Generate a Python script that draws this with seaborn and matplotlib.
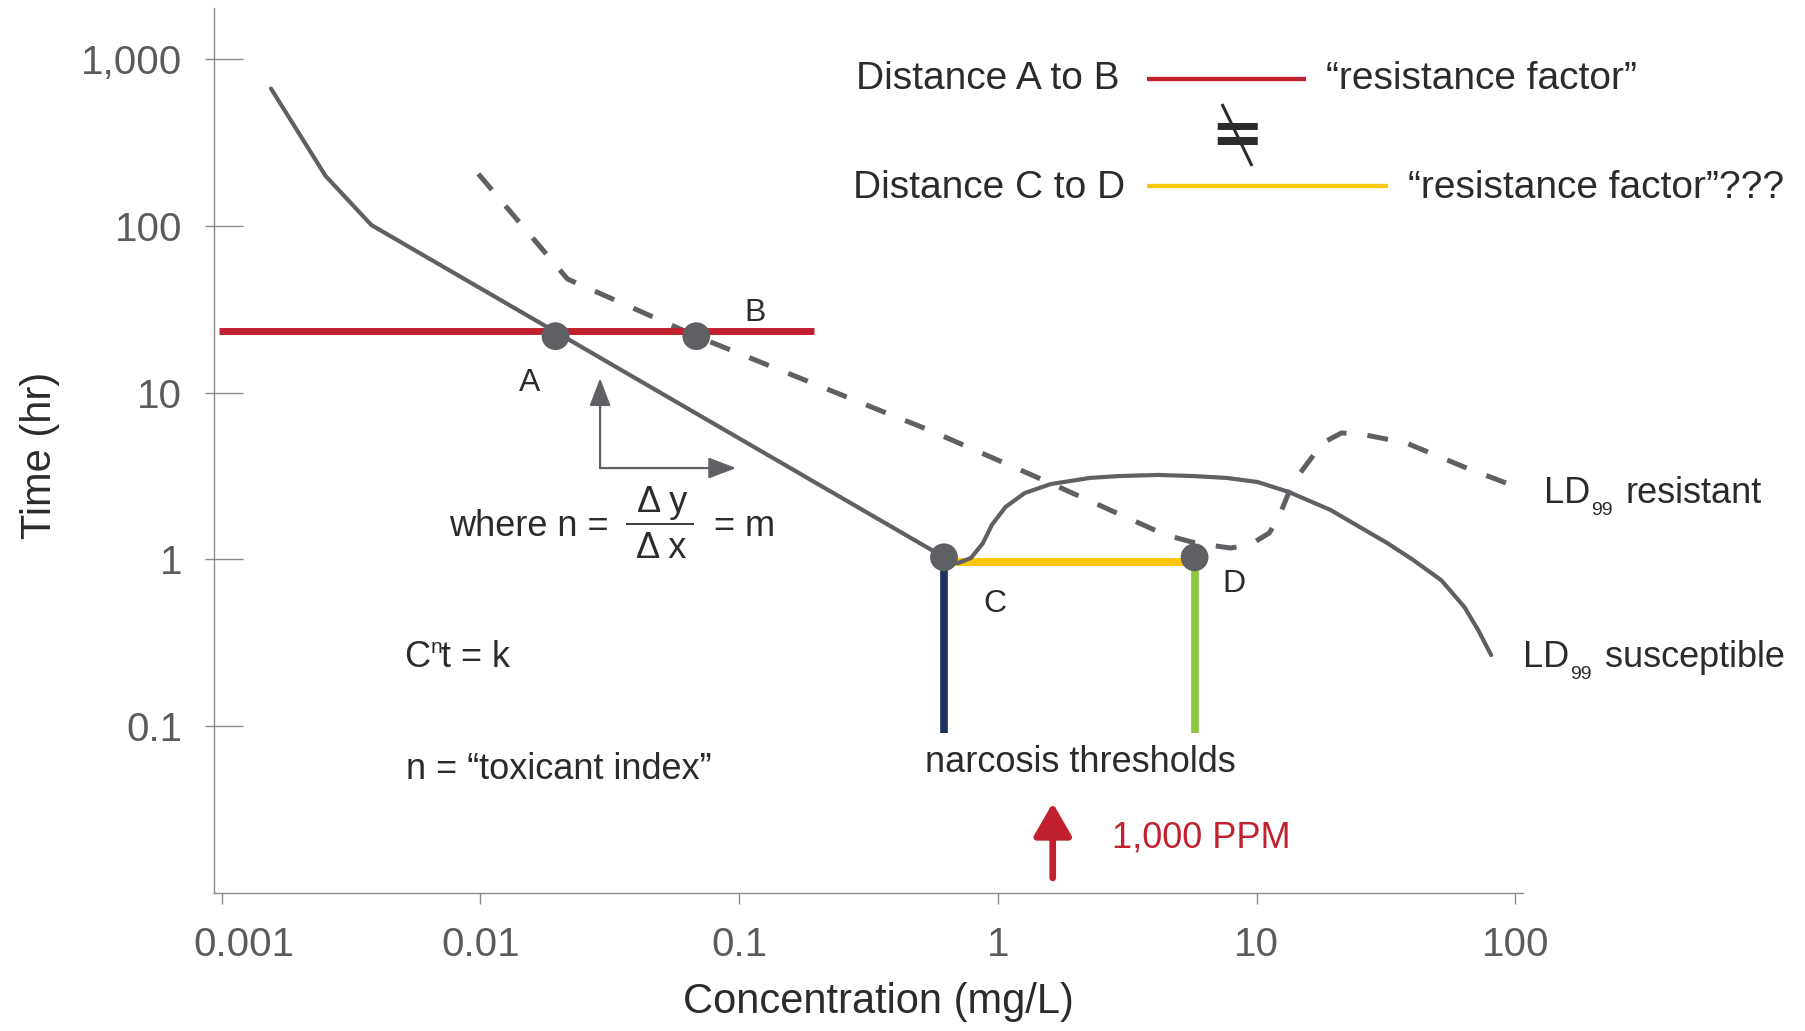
import matplotlib
matplotlib.use('Agg')
import pandas as pd
import seaborn as sns
import matplotlib.pyplot as plt
import matplotlib.ticker as mticker
import matplotlib.transforms as mtransforms
from matplotlib.lines import Line2D
from matplotlib.patches import FancyArrowPatch, ArrowStyle

# LD99 susceptible (solid) curve: concentration (mg/L) vs time (hr)
sus_conc = [0.00155, 0.00252, 0.00379, 0.62, 0.70, 0.787, 0.875, 0.948, 1.07, 1.27,
            1.60, 2.27, 2.93, 4.18, 5.71, 7.66, 10.1, 13.3, 19.3, 32.1, 40.4, 51.8,
            63.5, 71.9, 80.7]
sus_time = [665, 199, 101, 1.03, 0.95, 1.02, 1.25, 1.61, 2.06, 2.50,
            2.83, 3.08, 3.16, 3.21, 3.16, 3.08, 2.91, 2.54, 1.98, 1.25, 0.99, 0.75,
            0.52, 0.377, 0.267]

# LD99 resistant (dashed) curve
res_conc = [0.00981, 0.0217, 0.0683, 0.396, 0.542, 1.56, 4.46, 5.87, 7.94, 9.40,
            11.2, 12.2, 13.8, 16.3, 18.0, 21.3, 25.2, 37.9, 63.5, 103.5]
res_time = [205, 48.0, 21.8, 7.24, 5.97, 2.91, 1.40, 1.25, 1.17, 1.22,
            1.44, 1.80, 2.87, 4.06, 4.99, 5.73, 5.65, 4.99, 3.58, 2.68]

# marked points A, B, C, D
pt_names = ['A', 'B', 'C', 'D']
pt_conc = [0.0195, 0.0683, 0.619, 5.76]
pt_time = [21.8, 21.8, 1.03, 1.03]

ab_time = 23.4            # "resistance factor" line A-B
ab_span = [0.00098, 0.195]
cd_time = 0.965           # line C-D
thresh_low = 0.091        # bottom of narcosis threshold lines
ppm_conc = 1.63           # 1,000 PPM arrow
ppm_span = [0.0123, 0.0347]
slope_corner = [0.0290, 3.53]
slope_top = 12.2
slope_right = 0.0973

xticks = [0.001, 0.01, 0.1, 1, 10, 100]
xtick_labels = ['0.001', '0.01', '0.1', '1', '10', '100']
yticks = [0.1, 1, 10, 100, 1000]
ytick_labels = ['0.1', '1', '10', '100', '1,000']

GRAY = '#5f6063'
TEXT = '#2b2b2b'
AXIS = '#8c8c8c'
TICKTXT = '#5a5b5d'
RED = '#c1212f'
YELLOW = '#fcc80e'
NAVY = '#1f2f5e'
GREEN = '#8cc63f'

W, H = 1806, 1031
sns.set_style('white')
plt.rcParams['font.family'] = ['Liberation Sans', 'DejaVu Sans']

fig = plt.figure(figsize=(W / 100, H / 100), dpi=100)
ax = fig.add_axes([214 / W, 1 - 893 / H, 1309 / W, 885 / H])
ax.set_xscale('log')
ax.set_yscale('log')

sus = pd.DataFrame({'conc': sus_conc, 'time': sus_time})
res = pd.DataFrame({'conc': res_conc, 'time': res_time})
sns.lineplot(data=sus, x='conc', y='time', sort=False, estimator=None,
             color=GRAY, lw=3.0, ax=ax, zorder=2)
sns.lineplot(data=res, x='conc', y='time', sort=False, estimator=None,
             color=GRAY, lw=3.6, ax=ax, zorder=2)
ax.lines[-1].set_dashes([4.2, 4.2])

ax.hlines(ab_time, ab_span[0], ab_span[1], color=RED, lw=5.0, zorder=3)
ax.hlines(cd_time, pt_conc[2], pt_conc[3], color=YELLOW, lw=5.8, zorder=1.8)
ax.vlines(pt_conc[2], thresh_low, pt_time[2], color=NAVY, lw=5.5, zorder=1.8)
ax.vlines(pt_conc[3], thresh_low, pt_time[3], color=GREEN, lw=5.5, zorder=1.8)

pts = pd.DataFrame({'conc': pt_conc, 'time': pt_time, 'name': pt_names})
sns.scatterplot(data=pts, x='conc', y='time', s=400, color=GRAY,
                edgecolor='none', zorder=5, ax=ax, legend=False)


def arrow(p0, p1, color, lw, hl, hw):
    ax.add_patch(FancyArrowPatch(p0, p1, arrowstyle=ArrowStyle('-|>', head_length=hl, head_width=hw),
                                 mutation_scale=1, color=color, lw=lw,
                                 shrinkA=0, shrinkB=0, zorder=4))


arrow(slope_corner, (slope_corner[0], slope_top), GRAY, 1.6, 17, 6.5)
arrow(slope_corner, (slope_right, slope_corner[1]), GRAY, 1.6, 17, 6.5)
arrow((ppm_conc, ppm_span[0]), (ppm_conc, ppm_span[1]), RED, 4.8, 20, 11.5)

ax.set_xlim(10 ** -3.03, 10 ** 2.03)
ax.set_ylim(0.01, 10 ** 3.306)

ax.set_xticks(xticks)
ax.set_xticklabels(xtick_labels)
ax.set_yticks(yticks)
ax.set_yticklabels(ytick_labels)
ax.xaxis.set_minor_locator(mticker.NullLocator())
ax.yaxis.set_minor_locator(mticker.FixedLocator(yticks))
ax.yaxis.set_minor_formatter(mticker.NullFormatter())
ax.yaxis.remove_overlapping_locs = False

ax.tick_params(axis='y', which='major', left=True, direction='in', length=21, width=1.0,
               color=AXIS, labelsize=29, labelcolor=TICKTXT, pad=23)
ax.tick_params(axis='y', which='minor', left=True, direction='out', length=6.5, width=1.0, color=AXIS)
ax.tick_params(axis='x', which='major', bottom=True, direction='out', length=8, width=1.0,
               color=AXIS, labelsize=29, labelcolor=TICKTXT, pad=16)

first = ax.get_xticklabels()[0]
first.set_transform(first.get_transform() + mtransforms.ScaledTranslation(0.22, 0, fig.dpi_scale_trans))

sns.despine(ax=ax)
for side in ['left', 'bottom']:
    ax.spines[side].set_color(AXIS)
    ax.spines[side].set_linewidth(1.0)

ax.set_xlabel('Concentration (mg/L)', fontsize=30, color=TEXT)
ax.xaxis.set_label_coords((878 - 214) / 1309, (893 - 982) / 885)
ax.set_ylabel('Time (hr)', fontsize=30, color=TEXT)
ax.yaxis.set_label_coords((60 - 214) / 1309, (893 - 455) / 885)


def put(x, y, s, size=26, color=TEXT, ha='left', va='baseline', **kw):
    fig.text(x / W, 1 - y / H, s, fontsize=size, color=color, ha=ha, va=va, **kw)


def seg(x0, x1, y0, y1, color, lw):
    fig.add_artist(Line2D([x0 / W, x1 / W], [1 - y0 / H, 1 - y1 / H], color=color, lw=lw,
                          solid_capstyle='butt'))


# top-right key
put(856, 89, 'Distance A to B', size=28)
seg(1147, 1306, 79, 79, RED, 3.1)
put(1326, 89, '\u201cresistance factor\u201d', size=28)
put(1237, 136, '=', size=46, ha='center', va='center', family='DejaVu Sans', weight='bold')
seg(1222, 1252, 104, 166, TEXT, 2.2)
put(853, 198, 'Distance C to D', size=28)
seg(1147, 1388, 186, 186, YELLOW, 3.1)
put(1408, 198, '\u201cresistance factor\u201d???', size=28)

# point letters
put(530, 391, 'A', size=23, ha='center')
put(755, 321, 'B', size=23, ha='center')
put(995, 612, 'C', size=23, ha='center')
put(1234, 592, 'D', size=23, ha='center')

# slope formula
put(449, 536, 'where n =', size=26)
put(662, 512, '\u0394 y', size=26, ha='center')
seg(626, 694, 524, 524, TEXT, 1.3)
put(661, 558, '\u0394 x', size=26, ha='center')
put(714, 536, '= m', size=26)

put(404, 667, 'C', size=26)
put(431, 653, 'n', size=15)
put(441, 667, 't = k', size=26)
put(406, 779, 'n = \u201ctoxicant index\u201d', size=26)

put(1080, 772, 'narcosis thresholds', size=26, ha='center')
put(1112, 848, '1,000 PPM', size=26, color=RED)

put(1544, 503, 'LD', size=26)
put(1591, 515, '99', size=14)
put(1626, 503, 'resistant', size=26)
put(1523, 667, 'LD', size=26)
put(1570, 679, '99', size=14)
put(1605, 667, 'susceptible', size=26)

fig.savefig('out.png', dpi=100)
